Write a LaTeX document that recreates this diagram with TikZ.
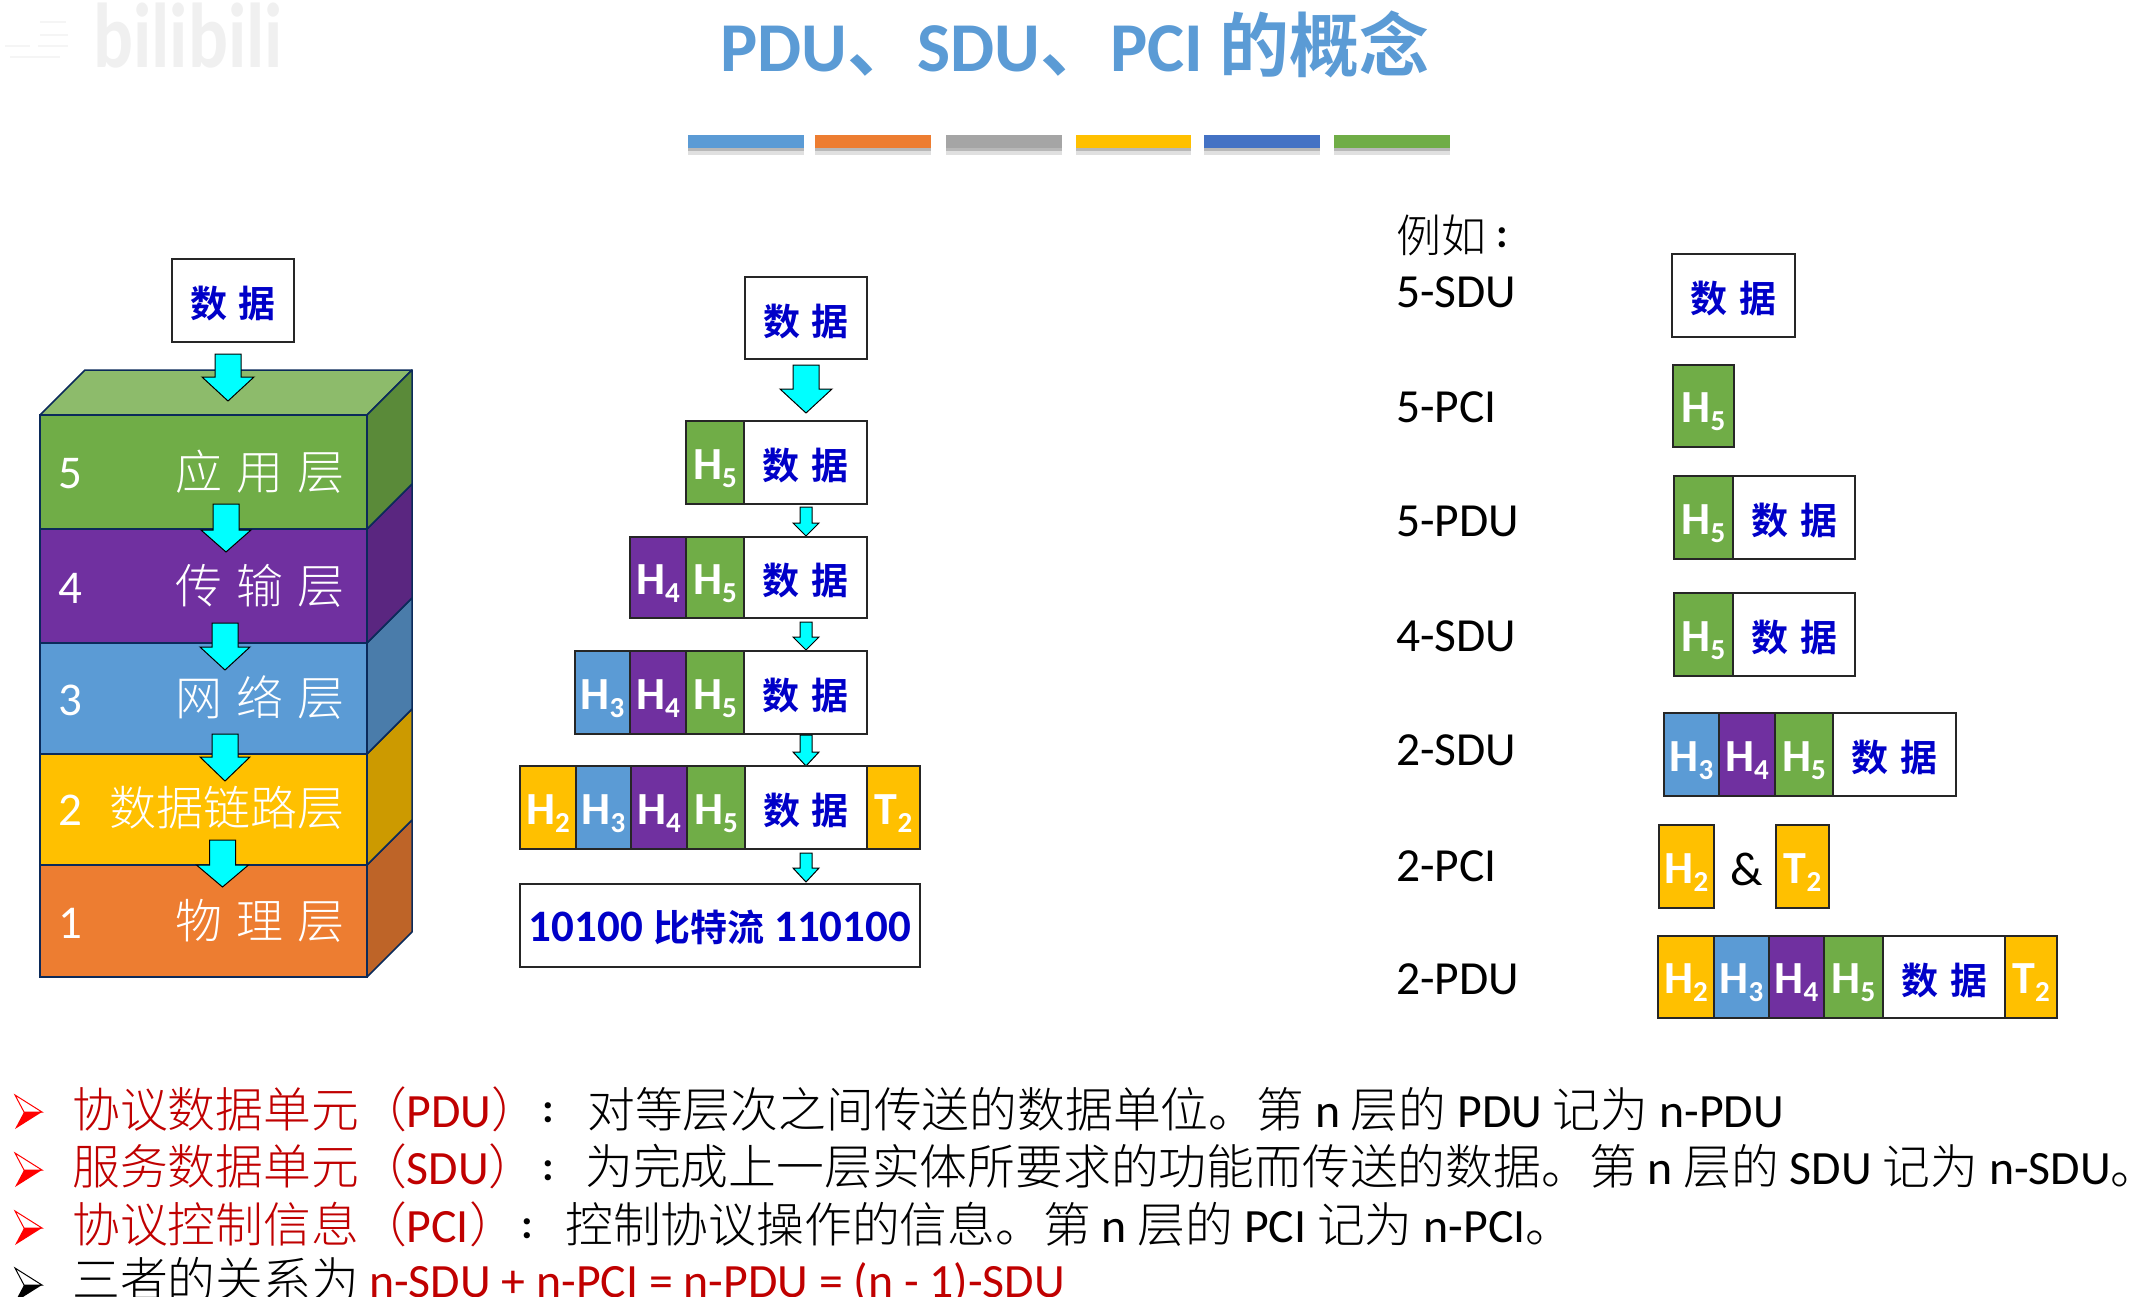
\documentclass[tikz,border=0pt]{standalone}
\usepackage{fontspec}
\setmainfont{Carlito}
\newfontfamily\zh[UprightFont={* Light},BoldFont={* Bold}]{Noto Sans CJK SC}
\definecolor{cgreen}{HTML}{70AD47}
\definecolor{cpurple}{HTML}{7030A0}
\definecolor{cblue}{HTML}{5B9BD5}
\definecolor{cyellow}{HTML}{FFC000}
\definecolor{corange}{HTML}{ED7D31}
\definecolor{cgrey}{HTML}{A5A5A5}
\definecolor{cbar}{HTML}{4472C4}
\definecolor{sgreen}{HTML}{5A8A39}
\definecolor{tgreen}{HTML}{8DBB6B}
\definecolor{spurple}{HTML}{5A2680}
\definecolor{sblue}{HTML}{4A7CAA}
\definecolor{syellow}{HTML}{CC9A00}
\definecolor{sorange}{HTML}{BE6428}
\definecolor{navy}{HTML}{0B2A5A}
\definecolor{datablue}{HTML}{0000C8}
\definecolor{dred}{HTML}{C00000}
\definecolor{arrowc}{HTML}{00FFFF}
\newcommand{\fs}[1]{\fontsize{#1}{#1}\selectfont}
\newcommand{\HH}[1]{\rule{0pt}{33pt}\textcolor{white}{\fs{46}\bfseries H\smash{\raisebox{-8pt}{\fs{29}#1}}}}
\newcommand{\TT}[1]{\rule{0pt}{33pt}\textcolor{white}{\fs{46}\bfseries T\smash{\raisebox{-8pt}{\fs{29}#1}}}}
\newcommand{\SJ}{\rule{0pt}{38pt}\textcolor{datablue}{\fs{37}\zh\bfseries 数\hspace{12pt}据}}
\newcommand{\cellbox}[7]{%
  \pgfmathsetmacro\cellW{#4-#2}\pgfmathsetmacro\cellH{#5-#3}%
  \node[cellb,fill=#6,minimum width=\cellW pt,minimum height=\cellH pt] (#1) at ({(#2+#4)/2},{(#3+#5)/2}) {#7};}
% block arrow: x-tip, top, shoulder, tip, half shaft, half head
\newcommand{\barrow}[6]{%
  \draw[barrowst] (#1-#5,#2) -- (#1+#5,#2) -- (#1+#5,#3) -- (#1+#6,#3) -- (#1,#4) -- (#1-#6,#3) -- (#1-#5,#3) -- cycle;}
\newcommand{\layer}[4]{% ytop ybot front side
  \draw[navy,line width=1.5pt,line join=round,fill=#4] (367,#1) -- (412,#1-45) -- (412,#2-45) -- (367,#2) -- cycle;
  \draw[navy,line width=1.5pt,fill=#3] (40,#1) rectangle (367,#2);}
\newcommand{\bul}[2]{%
  \draw[#2,line width=1pt,fill=white,line join=miter] (15,#1-17) -- (42,#1) -- (24,#1) -- cycle;
  \fill[#2] (15,#1+17) -- (42,#1) -- (24,#1) -- cycle;}
\tikzset{
  x=1pt,y=-1pt,
  cellb/.style={draw=black!85,line width=1.4pt,inner sep=0pt,outer sep=0pt},
  barrowst/.style={draw=black,line width=1pt,fill=arrowc,line join=miter},
  laytext/.style={text=white,inner sep=0pt,font=\fs{47}},
  lab/.style={anchor=base west,inner sep=0pt,font=\fs{47.5}},
  bodytext/.style={anchor=base west,inner sep=0pt,font=\fs{47.8}},
}
\begin{document}
\begin{tikzpicture}
\path[use as bounding box,clip] (0,0) rectangle (2141,1297);
\fill[white] (0,0) rectangle (2141,1297);
% watermark
\node[inner sep=0pt,text=black!6,font=\fs{92}\bfseries,xscale=0.81] (wm) at (188,36) {bilibili};
\foreach \ya/\xa/\xb in {22/40/66,35/40/68,46/5/30,46/38/68,57/10/60}{
  \draw[black!4,line width=2pt] (\xa,\ya) -- (\xb,\ya);
}
% title
\node[anchor=base,inner sep=0pt,text=cblue,font=\fs{70}\bfseries] (title) at (1075,72) {PDU{\zh 、}SDU{\zh 、}PCI {\zh 的概念}};
% title bars
\foreach \xa/\xb/\c in {688/804/cblue,815/931/corange,946/1062/cgrey,1076/1191/cyellow,1204/1320/cbar,1334/1450/cgreen}{
  \fill[black!12] (\xa,141) rectangle (\xb,155);
  \fill[black!28] (\xa,141) rectangle (\xb,151);
  \fill[\c] (\xa,135) rectangle (\xb,148);
}
% ---------- stack
\draw[navy,line width=1.5pt,line join=round,fill=tgreen] (40,415) -- (85,370) -- (412,370) -- (367,415) -- cycle;
\layer{865}{977}{corange}{sorange}
\layer{754}{865}{cyellow}{syellow}
\layer{643}{754}{cblue}{sblue}
\layer{529}{643}{cpurple}{spurple}
\layer{415}{529}{cgreen}{sgreen}
\node[laytext,anchor=west] (n5) at (58,474) {5};
\node[laytext,anchor=east] (l5) at (345,472) {\zh 应\hspace{14pt}用\hspace{14pt}层};
\node[laytext,anchor=west] (n4) at (58,588) {4};
\node[laytext,anchor=east] (l4) at (345,586) {\zh 传\hspace{14pt}输\hspace{14pt}层};
\node[laytext,anchor=west] (n3) at (58,700) {3};
\node[laytext,anchor=east] (l3) at (345,698) {\zh 网\hspace{14pt}络\hspace{14pt}层};
\node[laytext,anchor=west] (n2) at (58,810) {2};
\node[laytext,anchor=east] (l2) at (345,808) {\zh 数据链路层};
\node[laytext,anchor=west] (n1) at (58,923) {1};
\node[laytext,anchor=east] (l1) at (345,921) {\zh 物\hspace{14pt}理\hspace{14pt}层};
\cellbox{d0}{172}{259}{294}{342}{white}{\SJ}
\barrow{228}{354}{377}{401}{13}{26}
\barrow{226}{504}{530}{552}{13}{25}
\barrow{225}{623}{647}{670}{13}{25}
\barrow{225}{734}{757}{781}{13}{25}
\barrow{222.5}{840}{865}{887}{13}{26}
% ---------- middle column
\cellbox{m0}{745}{277}{867}{359}{white}{\SJ}
\barrow{806}{365}{389}{413}{13}{26}
\cellbox{a5}{686}{421}{744}{504}{cgreen}{\HH{5}}
\cellbox{ad}{744}{421}{867}{504}{white}{\SJ}
\barrow{806}{507}{523}{536}{6}{13}
\cellbox{b4}{630}{537}{686}{618}{cpurple}{\HH{4}}
\cellbox{b5}{686}{537}{744}{618}{cgreen}{\HH{5}}
\cellbox{bd}{744}{537}{867}{618}{white}{\SJ}
\barrow{806}{622}{637}{650}{6}{13}
\cellbox{c3}{575}{651}{630}{734}{cblue}{\HH{3}}
\cellbox{c4}{630}{651}{686}{734}{cpurple}{\HH{4}}
\cellbox{c5}{686}{651}{744}{734}{cgreen}{\HH{5}}
\cellbox{cd}{744}{651}{867}{734}{white}{\SJ}
\barrow{806}{735}{752}{766}{6}{13}
\cellbox{e2}{520}{766}{576}{849}{cyellow}{\HH{2}}
\cellbox{e3}{576}{766}{631}{849}{cblue}{\HH{3}}
\cellbox{e4}{631}{766}{687}{849}{cpurple}{\HH{4}}
\cellbox{e5}{687}{766}{745}{849}{cgreen}{\HH{5}}
\cellbox{ed}{745}{766}{867}{849}{white}{\SJ}
\cellbox{et}{867}{766}{920}{849}{cyellow}{\TT{2}}
\barrow{806}{853}{868}{882}{6}{13}
\cellbox{bits}{520}{884}{920}{967}{white}{\rule{0pt}{36pt}\textcolor{datablue}{\fs{45}\bfseries 10100 {\zh\fs{37}比特流} 110100}}
% ---------- right column
\node[anchor=base west,inner sep=0pt,font=\fs{45}] (lx) at (1396,253) {\zh 例如};
\node[inner sep=0pt,font=\fs{42}\bfseries] (lxc) at (1502,238) {:};
\node[lab] (r1) at (1396,308) {5-SDU};
\node[lab] (r2) at (1396,422) {5-PCI};
\node[lab] (r3) at (1396,536) {5-PDU};
\node[lab] (r4) at (1396,651) {4-SDU};
\node[lab] (r5) at (1396,765) {2-SDU};
\node[lab] (r6) at (1396,881) {2-PCI};
\node[lab] (r7) at (1396,994) {2-PDU};
\cellbox{s1}{1672}{254}{1795}{337}{white}{\SJ}
\cellbox{s2}{1673}{365}{1734}{447}{cgreen}{\HH{5}}
\cellbox{s3a}{1674}{476}{1733}{559}{cgreen}{\HH{5}}
\cellbox{s3b}{1733}{476}{1855}{559}{white}{\SJ}
\cellbox{s4a}{1674}{593}{1733}{676}{cgreen}{\HH{5}}
\cellbox{s4b}{1733}{593}{1855}{676}{white}{\SJ}
\cellbox{s5a}{1664}{713}{1719}{796}{cblue}{\HH{3}}
\cellbox{s5b}{1719}{713}{1775}{796}{cpurple}{\HH{4}}
\cellbox{s5c}{1775}{713}{1833}{796}{cgreen}{\HH{5}}
\cellbox{s5d}{1833}{713}{1956}{796}{white}{\SJ}
\cellbox{s6a}{1659}{825}{1714}{908}{cyellow}{\HH{2}}
\node[inner sep=0pt,font=\fs{47.5}] (amp) at (1747,869) {\&};
\cellbox{s6b}{1776}{825}{1829}{908}{cyellow}{\TT{2}}
\cellbox{s7a}{1658}{936}{1714}{1018}{cyellow}{\HH{2}}
\cellbox{s7b}{1714}{936}{1769}{1018}{cblue}{\HH{3}}
\cellbox{s7c}{1769}{936}{1824}{1018}{cpurple}{\HH{4}}
\cellbox{s7d}{1824}{936}{1883}{1018}{cgreen}{\HH{5}}
\cellbox{s7e}{1883}{936}{2005}{1018}{white}{\SJ}
\cellbox{s7f}{2005}{936}{2057}{1018}{cyellow}{\TT{2}}
% ---------- text lines
\bul{1112}{red}\bul{1170}{red}\bul{1228}{red}\bul{1285}{black}
\node[bodytext,text=dred] (t1a) at (72,1127) {{\zh 协议数据单元（}PDU{\zh ）}};
\node[inner sep=0pt,font=\fs{42}\bfseries] (t1c) at (548,1113) {:};
\node[bodytext] (t1b) at (587,1127) {{\zh 对等层次之间传送的数据单位。第} n {\zh 层的} PDU {\zh 记为} n-PDU};
\node[bodytext,text=dred] (t2a) at (72,1184) {{\zh 服务数据单元（}SDU{\zh ）}};
\node[inner sep=0pt,font=\fs{42}\bfseries] (t2c) at (548,1171) {:};
\node[bodytext] (t2b) at (585,1184) {{\zh 为完成上一层实体所要求的功能而传送的数据。第} n {\zh 层的} SDU {\zh 记为} n-SDU\rlap{\zh 。}};
\node[bodytext,text=dred] (t3a) at (72,1242) {{\zh 协议控制信息（}PCI{\zh ）}};
\node[inner sep=0pt,font=\fs{42}\bfseries] (t3c) at (527,1229) {:};
\node[bodytext] (t3b) at (565,1242) {{\zh 控制协议操作的信息。第} n {\zh 层的} PCI {\zh 记为} n-PCI{\zh 。}};
\node[bodytext] (t4a) at (72,1297) {{\zh 三者的关系为}};
\node[bodytext,text=dred] (t4b) at (369,1297) {n-SDU + n-PCI = n-PDU = (n - 1)-SDU};
\end{tikzpicture}
\end{document}
